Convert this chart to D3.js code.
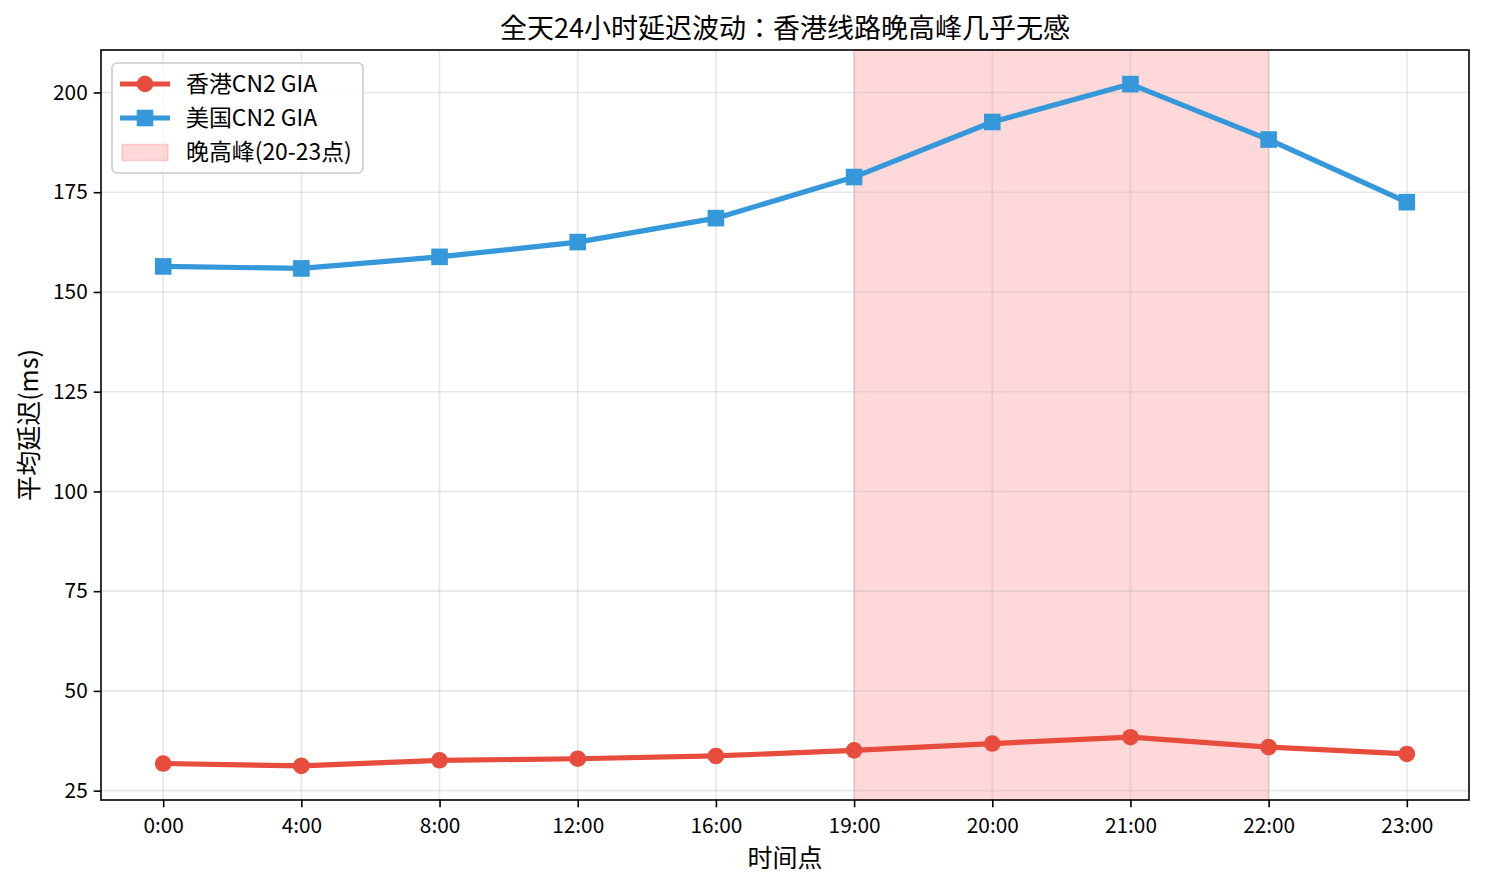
<!DOCTYPE html>
<html>
<head>
<meta charset="utf-8">
<script src="https://cdn.jsdelivr.net/npm/d3@7"></script>
<style>
  html, body { margin: 0; padding: 0; background: #fff; }
  svg { display: block; font-family: "Noto Sans CJK JP", "Noto Sans CJK SC", "Noto Sans", sans-serif; }
  .grid line { stroke: #b0b0b0; stroke-opacity: 0.3; stroke-width: 1.6; }
  .axis text { font-size: 20.8px; fill: #000; font-family: "Noto Sans CJK JP", "Noto Sans CJK SC", "Noto Sans", sans-serif; }
  .axis path, .axis line { stroke: #000; stroke-width: 1.6; }
</style>
</head>
<body>
<svg id="chart" width="1485" height="885"></svg>
<script>
const hours = ["0:00", "4:00", "8:00", "12:00", "16:00", "19:00", "20:00", "21:00", "22:00", "23:00"];
const hkLatency = [31.8, 31.2, 32.6, 33.0, 33.7, 35.1, 36.8, 38.4, 35.9, 34.2];
const usLatency = [156.4, 155.9, 158.8, 162.5, 168.5, 178.8, 192.6, 202.1, 188.2, 172.5];
const yTicks = [25, 50, 75, 100, 125, 150, 175, 200];
const peakSpan = ["19:00", "22:00"];

const svg = d3.select("#chart");
const margin = { top: 50, right: 16, bottom: 85, left: 101 };
const width = +svg.attr("width") - margin.left - margin.right;
const height = +svg.attr("height") - margin.top - margin.bottom;
const g = svg.append("g").attr("transform", `translate(${margin.left},${margin.top})`);

// categorical x like matplotlib: index positions with 5% margins
const idx = d3.scaleLinear().domain([-0.45, hours.length - 1 + 0.45]).range([0, width]);
const x = h => idx(hours.indexOf(h));

const all = hkLatency.concat(usLatency);
const lo = d3.min(all), hi = d3.max(all), pad = (hi - lo) * 0.05;
const y = d3.scaleLinear().domain([lo - pad, hi + pad]).range([height, 0]);

// peak span
g.append("rect")
  .attr("x", x(peakSpan[0])).attr("y", 0)
  .attr("width", x(peakSpan[1]) - x(peakSpan[0])).attr("height", height)
  .attr("fill", "red").attr("fill-opacity", 0.15)
  .attr("stroke", "red").attr("stroke-opacity", 0.15).attr("stroke-width", 1.6);

// grid
const grid = g.append("g").attr("class", "grid");
grid.selectAll(".gx").data(hours).join("line")
  .attr("x1", d => x(d)).attr("x2", d => x(d)).attr("y1", 0).attr("y2", height);
grid.selectAll(".gy").data(yTicks).join("line")
  .attr("x1", 0).attr("x2", width).attr("y1", d => y(d)).attr("y2", d => y(d));

// series
const series = [
  { name: "香港CN2 GIA", values: hkLatency, color: "#e74c3c", marker: "circle" },
  { name: "美国CN2 GIA", values: usLatency, color: "#3498db", marker: "square" }
];
const line = d3.line().x((d, i) => x(hours[i])).y(d => y(d));

function drawMarker(sel, type, color) {
  if (type === "circle") {
    sel.append("circle").attr("r", 8.3).attr("fill", color);
  } else {
    sel.append("rect").attr("x", -8.3).attr("y", -8.3).attr("width", 16.6).attr("height", 16.6).attr("fill", color);
  }
}

series.forEach(s => {
  g.append("path").datum(s.values)
    .attr("d", line).attr("fill", "none")
    .attr("stroke", s.color).attr("stroke-width", 5.2).attr("stroke-linejoin", "round");
  s.values.forEach((v, i) => {
    const m = g.append("g").attr("transform", `translate(${x(hours[i])},${y(v)})`);
    drawMarker(m, s.marker, s.color);
  });
});

// axes
g.append("g").attr("class", "axis")
  .attr("transform", `translate(0,${height})`)
  .call(d3.axisBottom(idx).tickValues(d3.range(hours.length)).tickFormat(i => hours[i])
    .tickSize(7.3).tickPadding(11).tickSizeOuter(0))
  .call(a => a.select(".domain").remove());
g.append("g").attr("class", "axis")
  .call(d3.axisLeft(y).tickValues(yTicks).tickSize(7.3).tickPadding(6))
  .call(a => a.select(".domain").remove());

// spines
g.append("rect").attr("width", width).attr("height", height)
  .attr("fill", "none").attr("stroke", "#000").attr("stroke-width", 1.6);

// titles
svg.append("text").attr("x", margin.left + width / 2).attr("y", 38)
  .attr("text-anchor", "middle").attr("font-size", 27).text("全天24小时延迟波动：香港线路晚高峰几乎无感");
svg.append("text").attr("x", margin.left + width / 2).attr("y", 867)
  .attr("text-anchor", "middle").attr("font-size", 25).text("时间点");
svg.append("text").attr("transform", `translate(38,${margin.top + height / 2}) rotate(-90)`)
  .attr("text-anchor", "middle").attr("font-size", 25).text("平均延迟(ms)");

// legend
const lg = svg.append("g").attr("transform", "translate(112,63)");
lg.append("rect").attr("width", 251).attr("height", 110).attr("rx", 5)
  .attr("fill", "#fff").attr("fill-opacity", 0.8).attr("stroke", "#cccccc").attr("stroke-width", 1.6);
const rows = series.concat([{ name: "晚高峰(20-23点)", patch: true }]);
rows.forEach((r, i) => {
  const ry = 21 + i * 34;
  const row = lg.append("g").attr("transform", `translate(0,${ry})`);
  if (r.patch) {
    row.append("rect").attr("x", 10).attr("y", -7.5).attr("width", 46).attr("height", 16)
      .attr("fill", "red").attr("fill-opacity", 0.15).attr("stroke", "red").attr("stroke-opacity", 0.15).attr("stroke-width", 1.6);
  } else {
    row.append("line").attr("x1", 8).attr("x2", 58).attr("stroke", r.color).attr("stroke-width", 5.2);
    drawMarker(row.append("g").attr("transform", "translate(33,0)"), r.marker, r.color);
  }
  row.append("text").attr("x", 74).attr("dy", "0.35em").attr("font-size", 22.9).text(r.name);
});
</script>
</body>
</html>
